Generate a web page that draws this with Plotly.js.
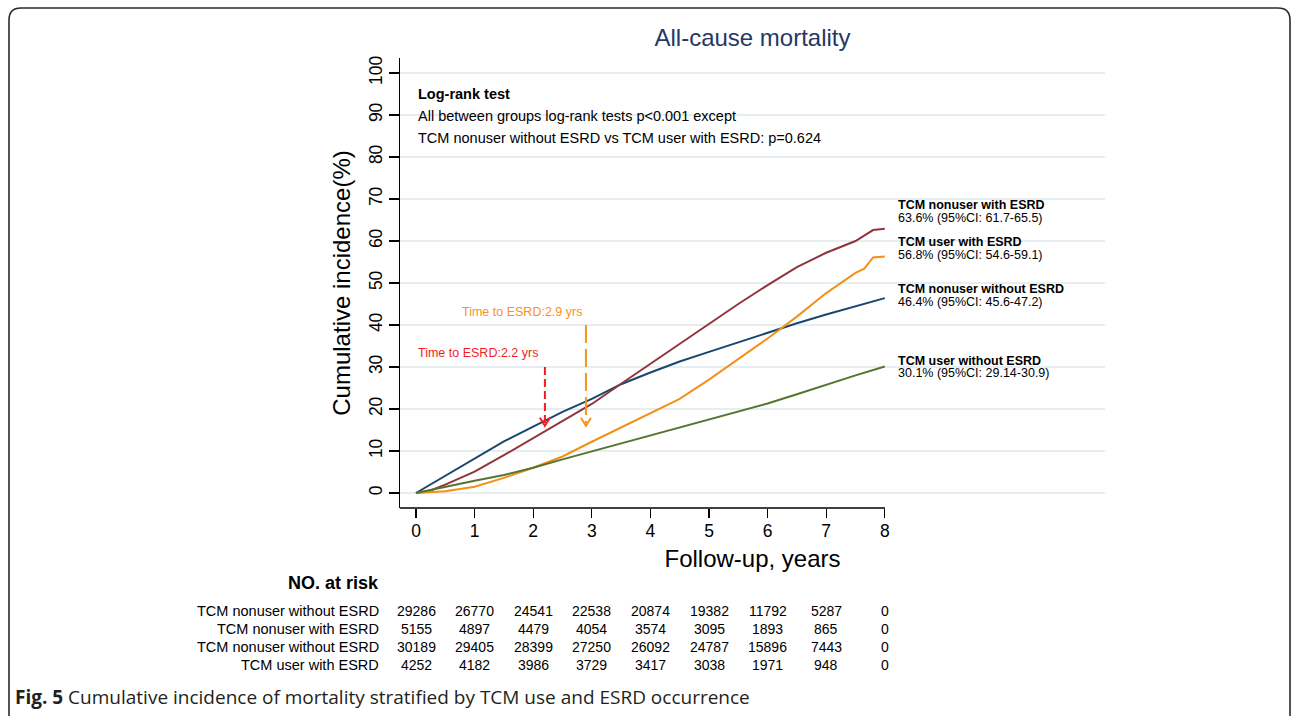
<!DOCTYPE html>
<html><head><meta charset="utf-8">
<script src="https://cdn.plot.ly/plotly-3.0.1.min.js"></script>
<style>html,body{margin:0;padding:0;background:#fff;} #chart{width:1292px;height:717px;}</style>
</head><body><div id="chart"></div>
<script>
// ---- data ----
const groupNames = ["TCM nonuser without ESRD", "TCM nonuser with ESRD", "TCM user with ESRD", "TCM user without ESRD"];
const nonuserNoEsrdT = [0,0.5,1,1.5,2,2.5,3,3.5,4,4.5,5,5.5,6,6.5,7,7.5,8];
const nonuserNoEsrdV = [0,4.1,8.1,12.3,15.8,19.3,22.4,25.9,28.7,31.3,33.6,35.9,38.2,40.4,42.5,44.5,46.4];
const nonuserEsrdT = [0,0.25,0.5,1,1.5,2,2.5,3,3.5,4,4.5,5,5.5,6,6.5,7,7.5,7.8,8];
const nonuserEsrdV = [0,0.6,2.0,5.1,9.0,13.1,17.3,21.2,26.0,30.8,35.4,40.3,45.0,49.5,53.8,57.2,60.0,62.6,62.9];
const userEsrdT = [0,0.5,1,1.5,2,2.5,3,3.5,4,4.5,5,5.5,6,6.5,7,7.5,7.65,7.8,8];
const userEsrdV = [0,0.4,1.5,3.6,6.0,8.7,12.2,15.6,18.9,22.4,27.0,31.8,36.8,42.0,47.6,52.4,53.4,56.1,56.3];
const userNoEsrdT = [0,0.5,1,1.5,2,2.5,3,3.5,4,4.5,5,5.5,6,6.5,7,7.5,8];
const userNoEsrdV = [0,1.5,2.9,4.3,6.0,8.0,9.9,11.8,13.7,15.7,17.6,19.5,21.3,23.5,25.8,28.0,30.1];

const endLabels = ["TCM nonuser with ESRD", "TCM user with ESRD", "TCM nonuser without ESRD", "TCM user without ESRD"];
const endValues = ["63.6% (95%CI: 61.7-65.5)", "56.8% (95%CI: 54.6-59.1)", "46.4% (95%CI: 45.6-47.2)", "30.1% (95%CI: 29.14-30.9)"];

const esrdTimes = [2.2, 2.9];
const esrdLabels = ["Time to ESRD:2.2 yrs", "Time to ESRD:2.9 yrs"];

const logRankLines = ["<b>Log-rank test</b>", "All between groups log-rank tests p<0.001 except", "TCM nonuser without ESRD vs TCM user with ESRD: p=0.624"];

const riskTimes = [0,1,2,3,4,5,6,7,8];
const riskRowLabels = ["TCM nonuser without ESRD", "TCM nonuser with ESRD", "TCM nonuser without ESRD", "TCM user with ESRD"];
const riskRow1 = [29286,26770,24541,22538,20874,19382,11792,5287,0];
const riskRow2 = [5155,4897,4479,4054,3574,3095,1893,865,0];
const riskRow3 = [30189,29405,28399,27250,26092,24787,15896,7443,0];
const riskRow4 = [4252,4182,3986,3729,3417,3038,1971,948,0];

const xTicks = [0,1,2,3,4,5,6,7,8];
const yTicks = [0,10,20,30,40,50,60,70,80,90,100];

// ---- layout geometry ----
const W = 1292, H = 717, L = 400, R = 187, T = 58, B = 209;
const PW = W - L - R, PH = H - T - B;
const px = p => (p - L) / PW;
const py = p => 1 - (p - T) / PH;
const FONT = "Liberation Sans, Arial, Helvetica, sans-serif";

const colBlue = "#1a476f", colRed = "#90353b", colOrange = "#f39019", colGreen = "#55752f";

const traces = [
  {x: nonuserNoEsrdT, y: nonuserNoEsrdV, name: groupNames[0], line: {color: colBlue}},
  {x: nonuserEsrdT, y: nonuserEsrdV, name: groupNames[1], line: {color: colRed}},
  {x: userEsrdT, y: userEsrdV, name: groupNames[2], line: {color: colOrange}},
  {x: userNoEsrdT, y: userNoEsrdV, name: groupNames[3], line: {color: colGreen}}
].map(t => Object.assign(t, {type: "scatter", mode: "lines", line: Object.assign(t.line, {width: 2}), hoverinfo: "skip"}));

const ann = [];
// log-rank box
const lrY = [94, 116, 138];
logRankLines.forEach((s, i) => ann.push({xref: "paper", yref: "paper", x: px(416), y: py(lrY[i]), xanchor: "left", yanchor: "middle",
  text: s, showarrow: false, font: {family: FONT, size: 14.5, color: "#000"}}));
// end labels
const endY = [205, 242, 289, 360.5];
endLabels.forEach((s, i) => {
  ann.push({xref: "paper", yref: "paper", x: px(896), y: py(endY[i]), xanchor: "left", yanchor: "middle",
    text: "<b>" + s + "</b>", showarrow: false, font: {family: FONT, size: 12.5, color: "#000"}});
  ann.push({xref: "paper", yref: "paper", x: px(896), y: py(endY[i] + 12.7), xanchor: "left", yanchor: "middle",
    text: endValues[i], showarrow: false, font: {family: FONT, size: 12.5, color: "#000"}});
});
// arrow labels
const arrowCols = ["#f01e23", "#f7931e"];
const arrLabPos = [[477.7, 353.3], [521.7, 311.7]];
esrdLabels.forEach((s, i) => ann.push({xref: "paper", yref: "paper", x: px(arrLabPos[i][0]), y: py(arrLabPos[i][1]),
  xanchor: "center", yanchor: "middle", text: s, showarrow: false, font: {family: FONT, size: 12.5, color: arrowCols[i]}}));
// at risk table
ann.push({xref: "paper", yref: "paper", x: px(381), y: py(583), xanchor: "right", yanchor: "middle",
  text: "<b>NO. at risk</b>", showarrow: false, font: {family: FONT, size: 18, color: "#000"}});
const riskRows = [riskRow1, riskRow2, riskRow3, riskRow4];
const rowY = [611, 629, 647, 665];
riskRowLabels.forEach((s, i) => {
  ann.push({xref: "paper", yref: "paper", x: px(381), y: py(rowY[i]), xanchor: "right", yanchor: "middle",
    text: s, showarrow: false, font: {family: FONT, size: 14.5, color: "#000"}});
  riskRows[i].forEach((v, j) => ann.push({xref: "x", yref: "paper", x: riskTimes[j], y: py(rowY[i]), xanchor: "center", yanchor: "middle",
    text: String(v), showarrow: false, font: {family: FONT, size: 14, color: "#000"}}));
});
// caption
ann.push({xref: "paper", yref: "paper", x: px(13), y: py(697), xanchor: "left", yanchor: "middle",
  text: "<b>Fig. 5</b> Cumulative incidence of mortality stratified by TCM use and ESRD occurrence", showarrow: false,
  font: {family: "Open Sans, sans-serif", size: 19, color: "#231f20"}});

// shapes
const shapes = [];
// outer rounded border
const bx0 = px(9), bx1 = px(1290), by0 = py(8), by1 = py(716);
const rx = 12 / PW, ry = 12 / PH;
shapes.push({type: "path", xref: "paper", yref: "paper", layer: "below",
  path: `M ${bx0},${by1} L ${bx0},${by0 - ry} Q ${bx0},${by0} ${bx0 + rx},${by0} L ${bx1 - rx},${by0} Q ${bx1},${by0} ${bx1},${by0 - ry} L ${bx1},${by1}`,
  line: {color: "#2b2b2b", width: 1.6}});
// x axis line (to last tick)
shapes.push({type: "line", xref: "paper", yref: "paper", x0: 0, x1: px(885), y0: 0, y1: 0, line: {color: "#000", width: 1.3}});
// arrows
const arrowTop = [30, 40];
const arrowDash = ["8px,4px", "18px,6px"];
const tipV = 16.0, dx = 5 / 58.6, dy = 8 / 4.2;
esrdTimes.forEach((t, i) => {
  shapes.push({type: "line", xref: "x", yref: "y", x0: t, x1: t, y0: arrowTop[i], y1: tipV + 0.6, line: {color: arrowCols[i], width: 2, dash: arrowDash[i]}});
  shapes.push({type: "path", xref: "x", yref: "y", path: `M ${t - dx},${tipV + dy} L ${t},${tipV} L ${t + dx},${tipV + dy}`, line: {color: arrowCols[i], width: 2}});
});

const layout = {
  width: W, height: H,
  margin: {l: L, r: R, t: T, b: B, pad: 0},
  paper_bgcolor: "#fff", plot_bgcolor: "#fff",
  showlegend: false,
  font: {family: FONT, color: "#000"},
  title: {text: "All-cause mortality", x: 0.5, xref: "paper", xanchor: "center", y: 1 - 38 / H, yref: "container", yanchor: "middle",
    font: {family: FONT, size: 24, color: "#263866"}},
  xaxis: {range: [-16 / 58.6, (1105 - 416) / 58.6], tickvals: xTicks, ticktext: xTicks.map(String), ticks: "outside", ticklen: 9, tickwidth: 1.3, tickcolor: "#000",
    ticklabelstandoff: -2,
    showgrid: false, zeroline: false, showline: false, tickfont: {size: 17.5, color: "#000"},
    title: {text: "Follow-up, years", font: {size: 24, color: "#000"}, standoff: 10}},
  yaxis: {range: [-(508 - 493) / 4.2, 100 + (73 - 58) / 4.2], tickvals: yTicks, ticks: "outside", ticklen: 10, tickwidth: 1.3, tickcolor: "#000",
    tickangle: -90, showgrid: true, gridcolor: "#e6eef1", gridwidth: 1.8, zeroline: false, showline: true, linecolor: "#000", linewidth: 1.3,
    tickfont: {size: 17.5, color: "#000"},
    title: {text: "Cumulative incidence(%)", font: {size: 24, color: "#000"}, standoff: 8}},
  annotations: ann,
  shapes: shapes
};

Plotly.newPlot("chart", traces, layout, {displayModeBar: false, staticPlot: true});
</script>
</body></html>
